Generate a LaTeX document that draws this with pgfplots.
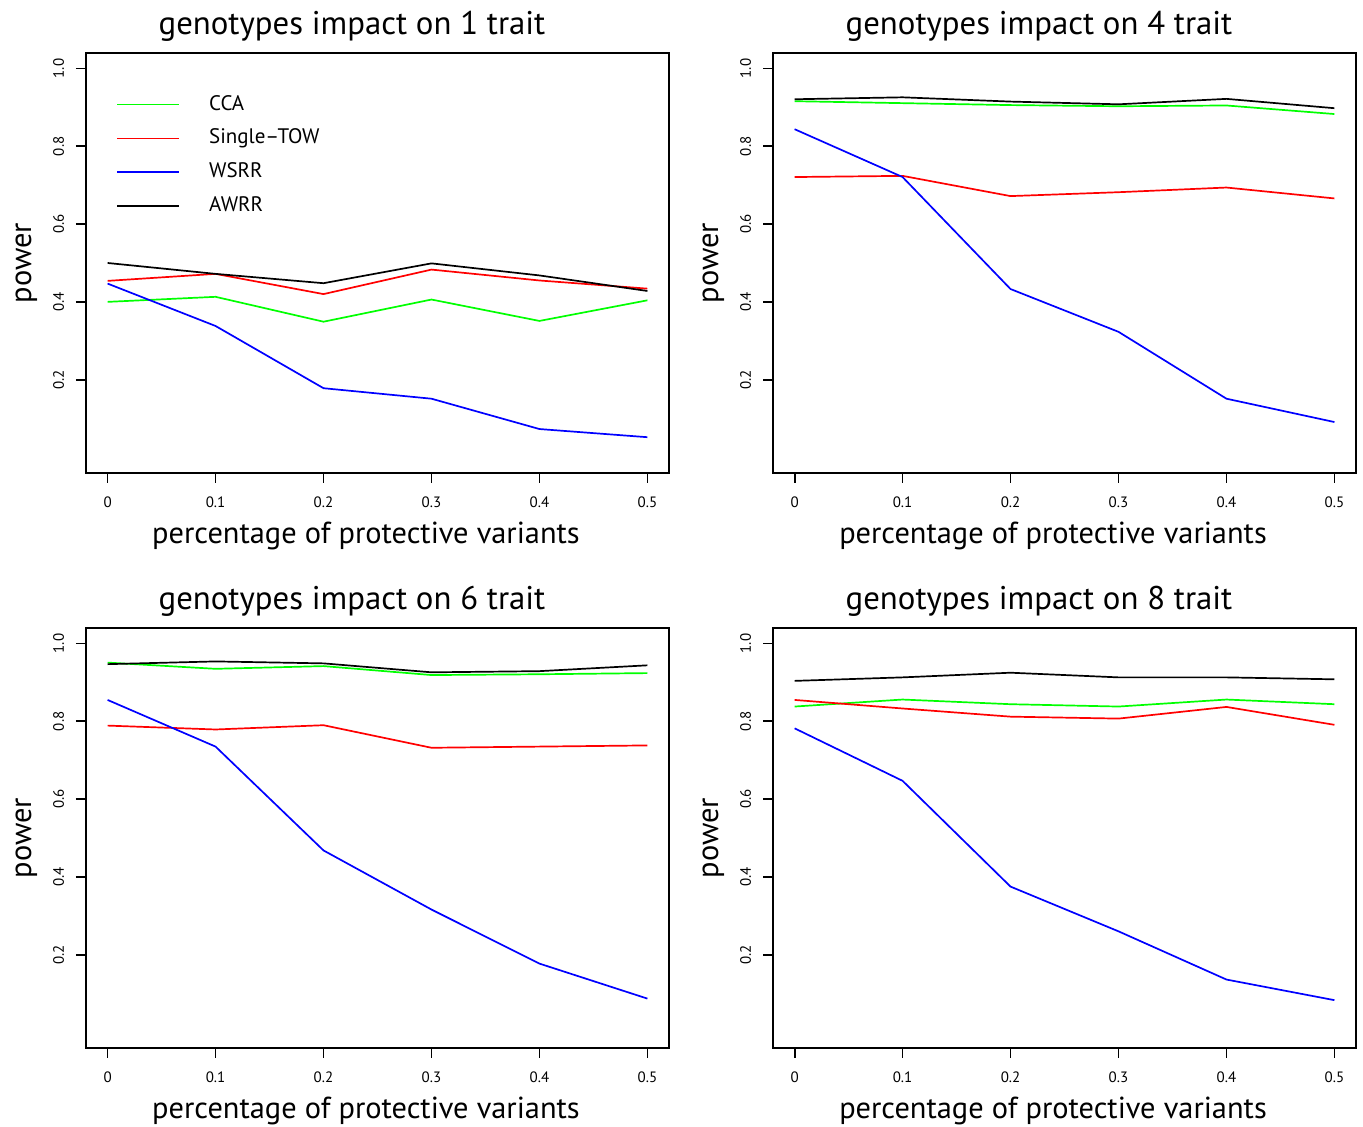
\documentclass[border=0pt]{standalone}
\usepackage{fontspec}
\setmainfont{PT Sans}
\usepackage{pgfplots}
\usepackage{pgfplotstable}
\pgfplotsset{compat=1.18}

\pgfplotstableread{
x    cca   tow   wsrr  awrr
0.0  0.400 0.454 0.447 0.500
0.1  0.413 0.472 0.338 0.472
0.2  0.349 0.420 0.178 0.448
0.3  0.406 0.483 0.151 0.499
0.4  0.351 0.455 0.073 0.468
0.5  0.404 0.434 0.052 0.428
}\tA
\pgfplotstableread{
x    cca   tow   wsrr  awrr
0.0  0.916 0.721 0.844 0.921
0.1  0.911 0.724 0.721 0.926
0.2  0.906 0.672 0.433 0.915
0.3  0.903 0.682 0.323 0.908
0.4  0.905 0.694 0.151 0.922
0.5  0.883 0.666 0.091 0.898
}\tB
\pgfplotstableread{
x    cca   tow   wsrr  awrr
0.0  0.951 0.789 0.855 0.947
0.1  0.935 0.779 0.735 0.954
0.2  0.942 0.790 0.468 0.949
0.3  0.919 0.732 0.316 0.926
0.4  0.921 0.735 0.177 0.929
0.5  0.924 0.738 0.087 0.944
}\tC
\pgfplotstableread{
x    cca   tow   wsrr  awrr
0.0  0.838 0.855 0.782 0.904
0.1  0.856 0.833 0.647 0.913
0.2  0.844 0.812 0.375 0.925
0.3  0.838 0.807 0.260 0.913
0.4  0.856 0.837 0.136 0.913
0.5  0.844 0.791 0.083 0.908
}\tD

\definecolor{rgreen}{RGB}{0,255,0}
\definecolor{rred}{RGB}{255,0,0}
\definecolor{rblue}{RGB}{0,0,255}

\pgfplotsset{
  panel/.style={
    scale only axis, width=291.5pt, height=210pt,
    anchor=south west,
    xmin=-0.02, xmax=0.52, ymin=-0.04, ymax=1.04,
    xtick={0,0.1,0.2,0.3,0.4,0.5}, xticklabels={0,0.1,0.2,0.3,0.4,0.5},
    ytick={0.2,0.4,0.6,0.8,1.0}, yticklabels={0.2,0.4,0.6,0.8,1.0},
    tick pos=left, tick align=outside, major tick length=5pt,
    tick style={line width=0.9pt, black},
    axis line style={line width=0.9pt},
    ticklabel style={font=\fontsize{7.5}{9}\selectfont},
    xticklabel shift=3.5pt,
    yticklabel style={rotate=90, anchor=south},
    yticklabel shift=2.5pt,
    xlabel={percentage of protective variants},
    ylabel={power},
    label style={font=\fontsize{15.2}{17}\selectfont},
    xlabel style={at={(axis description cs:0.4803,-0.169)}, anchor=base},
    ylabel style={at={(axis description cs:-0.0943,0.5)}, anchor=base},
    every axis title shift=0pt,
    title style={font=\fontsize{16.4}{18}\selectfont, at={(axis description cs:0.4563,1.045)}, anchor=base},
    every axis plot/.append style={line width=0.85pt, no markers},
  }
}

\begin{document}
\begin{tikzpicture}
\useasboundingbox (0,0) rectangle (681.5pt,563.5pt);

\begin{axis}[panel, at={(43pt,327pt)}, title={genotypes impact on 1 trait},
  legend cell align=left,
  legend image code/.code={\draw[#1, line width=0.85pt] (0pt,0pt) -- (31pt,0pt);},
  legend style={draw=none, fill=none, inner sep=0pt, anchor=north west,
    at={(axis description cs:0.0515,0.903)},
    font=\fontsize{10.5}{12}\selectfont,
    nodes={inner sep=0pt, text height=8pt, text depth=2.5pt},
    row sep=6.4pt, column sep=14.5pt}]
\addplot[rgreen] table[x=x,y=cca]{\tA};
\addplot[rred] table[x=x,y=tow]{\tA};
\addplot[rblue] table[x=x,y=wsrr]{\tA};
\addplot[black] table[x=x,y=awrr]{\tA};
\legend{CCA,Single–TOW,WSRR,AWRR}
\end{axis}

\begin{axis}[panel, at={(386.5pt,327pt)}, title={genotypes impact on 4 trait}]
\addplot[rgreen] table[x=x,y=cca]{\tB};
\addplot[rred] table[x=x,y=tow]{\tB};
\addplot[rblue] table[x=x,y=wsrr]{\tB};
\addplot[black] table[x=x,y=awrr]{\tB};
\end{axis}

\begin{axis}[panel, at={(43pt,39.5pt)}, title={genotypes impact on 6 trait}]
\addplot[rgreen] table[x=x,y=cca]{\tC};
\addplot[rred] table[x=x,y=tow]{\tC};
\addplot[rblue] table[x=x,y=wsrr]{\tC};
\addplot[black] table[x=x,y=awrr]{\tC};
\end{axis}

\begin{axis}[panel, at={(386.5pt,39.5pt)}, title={genotypes impact on 8 trait}]
\addplot[rgreen] table[x=x,y=cca]{\tD};
\addplot[rred] table[x=x,y=tow]{\tD};
\addplot[rblue] table[x=x,y=wsrr]{\tD};
\addplot[black] table[x=x,y=awrr]{\tD};
\end{axis}
\end{tikzpicture}
\end{document}
